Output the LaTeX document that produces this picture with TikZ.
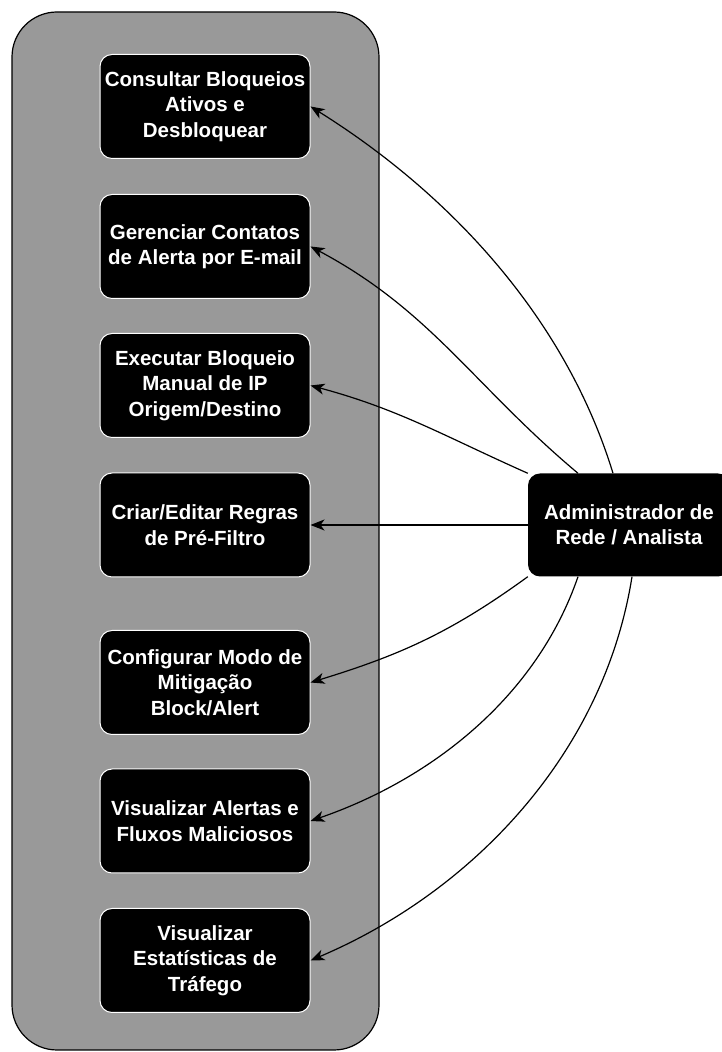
\documentclass[tikz,border=0pt]{standalone}
\usepackage{fontspec}
\setmainfont{Liberation Sans}
\usetikzlibrary{arrows.meta}
\definecolor{contgray}{HTML}{999999}
\begin{document}
\begin{tikzpicture}[x=1pt,y=1pt,
  uc/.style={draw=white, line width=1pt, fill=black, rounded corners=12pt,
    minimum width=210pt, minimum height=104pt, inner sep=0pt, text=white,
    align=center, font=\fontsize{20.5}{25.5}\selectfont\bfseries},
  actor/.style={fill=black, rounded corners=12pt, minimum width=202pt,
    minimum height=103pt, inner sep=0pt, text=white, align=center,
    font=\fontsize{20.5}{25.5}\selectfont\bfseries},
  conn/.style={draw=black, line width=1.2pt,
    -{Stealth[length=14pt,width=11pt,inset=4pt]}},
  container/.style={draw=black, line width=1.2pt, fill=contgray,
    rounded corners=45pt, minimum width=367pt, minimum height=1038pt,
    inner sep=0pt}]
\useasboundingbox (0,0) rectangle (722,1052);
\node[container] (sys) at (195.5,521) {};
\node[uc] (b1) at (205,945.5) {Consultar Bloqueios\\Ativos e\\Desbloquear};
\node[uc] (b2) at (205,805.5) {Gerenciar Contatos\\de Alerta por E-mail};
\node[uc] (b3) at (205,666.5) {Executar Bloqueio\\Manual de IP\\Origem/Destino};
\node[uc] (b4) at (205,527) {Criar/Editar Regras\\de Pré-Filtro};
\node[uc] (b5) at (205,369.5) {Configurar Modo de\\Mitigação\\Block/Alert};
\node[uc] (b6) at (205,231) {Visualizar Alertas e\\Fluxos Maliciosos};
\node[uc] (b7) at (205,91.5) {Visualizar\\Estatísticas de\\Tráfego};
\node[actor] (adm) at (629,527) {Administrador de\\Rede / Analista};
\draw[conn] ([xshift=-16pt]adm.north) to[out=107,in=-32,looseness=0.88] (b1.east);
\draw[conn] ([xshift=-51pt]adm.north) to[out=140,in=-28] (b2.east);
\draw[conn] (adm.north west) to[out=156,in=-15] (b3.east);
\draw[conn] (adm.west) -- (b4.east);
\draw[conn] (adm.south west) to[out=-144,in=17] (b5.east);
\draw[conn] ([xshift=-51pt]adm.south) to[out=-109,in=19,looseness=0.9] (b6.east);
\draw[conn] ([xshift=3pt]adm.south) to[out=-99,in=23,looseness=0.91] (b7.east);
\end{tikzpicture}
\end{document}
